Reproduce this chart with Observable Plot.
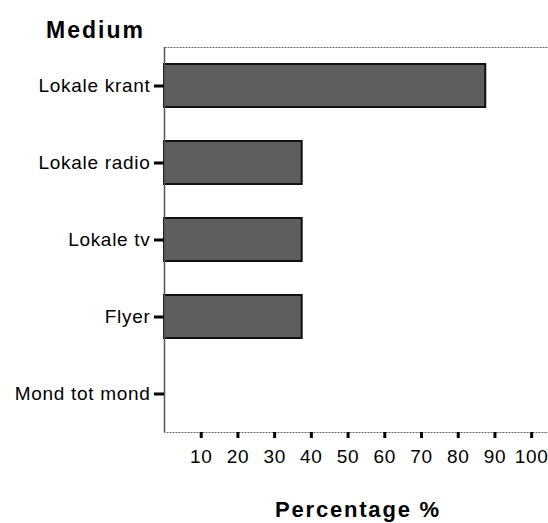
<!DOCTYPE html>
<html>
<head>
<meta charset="utf-8">
<script src="https://cdn.jsdelivr.net/npm/d3@7"></script>
<script src="https://cdn.jsdelivr.net/npm/@observablehq/plot@0.6"></script>
<style>
  html, body { margin: 0; padding: 0; background: #fff; }
  #chart { width: 548px; height: 523px; }
</style>
</head>
<body>
<div id="chart"></div>
<script>
const categories = ["Lokale krant", "Lokale radio", "Lokale tv", "Flyer", "Mond tot mond"];
const percentages = [87.5, 37.5, 37.5, 37.5, 0];
const xTicks = [10, 20, 30, 40, 50, 60, 70, 80, 90, 100];
const yTitle = "Medium";
const xTitle = "Percentage %";

const data = categories.map((c, i) => ({medium: c, pct: percentages[i]}));

const chart = Plot.plot({
  width: 548,
  height: 523,
  marginLeft: 164,
  marginRight: -3,
  marginTop: 47,
  marginBottom: 91,
  style: {fontFamily: "'Liberation Sans', Arial, sans-serif", fontSize: "19px", color: "#000", background: "#fff"},
  x: {domain: [0, 105.4]},
  y: {domain: categories, paddingInner: 0.44, paddingOuter: 0.22},
  marks: [
    Plot.frame({stroke: "#666", strokeDasharray: "2,1"}),
    Plot.barX(data, {x: "pct", y: "medium", fill: "#5e5e5e", stroke: "#111", strokeWidth: 2}),
    Plot.ruleX([0], {stroke: "#555", strokeWidth: 1.5}),
    Plot.axisY({label: null, tickSize: 10, tickPadding: 4, strokeWidth: 3, stroke: "#000"}),
    Plot.axisX({ticks: xTicks, label: null, tickSize: 6, tickPadding: 11, strokeWidth: 3, stroke: "#000"}),
    Plot.text([yTitle], {frameAnchor: "top-left", dx: -69, dy: -10, textAnchor: "middle", lineAnchor: "bottom", fontWeight: "bold", fontSize: 23}),
    Plot.text([xTitle], {frameAnchor: "bottom", dy: 84, textAnchor: "middle", lineAnchor: "bottom", fontWeight: "bold", fontSize: 22})
  ]
});
document.getElementById("chart").appendChild(chart);
d3.select(chart).selectAll("text").each(function() {
  const t = this.textContent;
  if (t === yTitle) this.setAttribute("letter-spacing", "2px");
  else if (t === xTitle) this.setAttribute("letter-spacing", "1.8px");
  else this.setAttribute("letter-spacing", "0.7px");
});
</script>
</body>
</html>
